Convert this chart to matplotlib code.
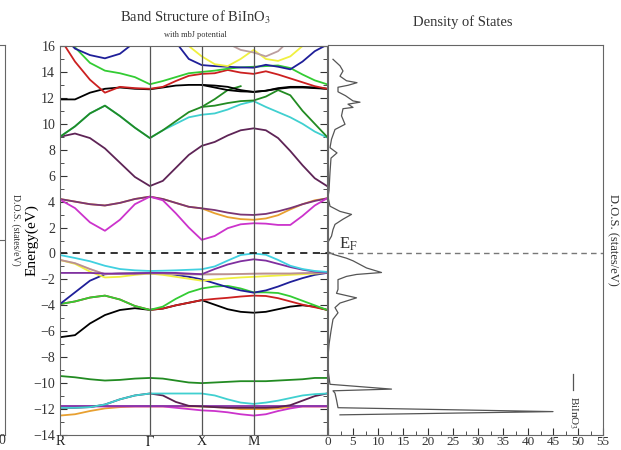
import numpy as np
import matplotlib
matplotlib.use("Agg")
import matplotlib.pyplot as plt
from matplotlib.ticker import MultipleLocator

plt.rcParams['font.family'] = ['Liberation Serif', 'DejaVu Serif']
plt.rcParams['mathtext.fontset'] = 'stix'

# k-path R - Gamma - X - M - Gamma (cubic, units of 2pi/a)
seg_len = [np.sqrt(3) / 2, 0.5, 0.5, np.sqrt(2) / 2]
seg_pts = [6, 4, 4, 6]
k_nodes = np.concatenate([[0], np.cumsum(seg_len)])
k = [0.0]
for i in range(4):
    k += list(np.linspace(k_nodes[i], k_nodes[i + 1], seg_pts[i] + 1)[1:])
k = np.array(k)
k_labels = ['R', r'$\Gamma$', 'X', 'M', '']

nan = np.nan
# band energies (eV) read at the 21 k points
bands = [
    # semicore ~ -12 eV
    ('#e8a030', [-12.5, -12.4, -12.15, -11.95, -11.85, -11.8, -11.8, -11.8, -11.8, -11.8, -11.8,
                 -11.85, -11.9, -12.0, -12.0, -12.0, -11.95, -11.85, -11.8, -11.8, -11.8]),
    ('#cc33cc', [-11.8, -11.8, -11.8, -11.8, -11.8, -11.8, -11.8, -11.8, -11.9, -12.0, -12.1,
                 -12.15, -12.25, -12.4, -12.5, -12.4, -12.15, -11.95, -11.8, -11.8, -11.8]),
    ('#8833aa', [-11.78] * 21),
    ('#5a2050', [-11.9, -11.9, -11.85, -11.65, -11.25, -10.95, -10.8, -10.95, -11.45, -11.75, -11.8,
                 -11.85, -11.9, -11.9, -11.9, -11.9, -11.85, -11.7, -11.35, -11.0, -10.8]),
    ('#40d0d0', [-11.9, -11.9, -11.85, -11.65, -11.25, -10.95, -10.8, -10.8, -10.8, -10.8, -10.8,
                 -10.95, -11.25, -11.5, -11.6, -11.5, -11.35, -11.15, -10.95, -10.85, -10.8]),
    ('#228b22', [-9.45, -9.55, -9.7, -9.8, -9.75, -9.65, -9.6, -9.65, -9.8, -9.95, -10.0,
                 -9.95, -9.9, -9.85, -9.85, -9.85, -9.8, -9.75, -9.7, -9.6, -9.6]),
    # valence
    ('#000000', [-6.46, -6.3, -5.4, -4.75, -4.36, -4.22, -4.35, -4.25, -4.0, -3.8, -3.6,
                 -3.95, -4.3, -4.5, -4.57, -4.5, -4.3, -4.1, -4.0, -4.1, -4.35]),
    ('#cc2020', [-3.9, -3.7, -3.4, -3.25, -3.55, -4.05, -4.35, -4.25, -4.0, -3.8, -3.6,
                 -3.5, -3.42, -3.32, -3.25, -3.28, -3.45, -3.7, -3.95, -4.15, -4.35]),
    ('#33cc33', [-3.9, -3.7, -3.4, -3.25, -3.55, -4.05, -4.35, -4.1, -3.5, -3.0, -2.7,
                 -2.55, -2.5, -2.7, -3.0, -3.0, -3.05, -3.3, -3.65, -4.0, -4.35]),
    ('#1f1f99', [-3.9, -3.0, -2.1, -1.6, -1.55, -1.5, -1.5, -1.55, -1.65, -1.8, -2.0,
                 -2.3, -2.6, -2.85, -3.02, -2.85, -2.55, -2.2, -1.9, -1.65, -1.5]),
    ('#d8d8d8', [-0.5, -0.75, -1.2, -1.6, -1.55, -1.55, -1.55, -1.55, -1.6, -1.62, -1.65,
                 -1.62, -1.6, -1.58, -1.56, -1.55, -1.55, -1.55, -1.52, -1.5, -1.5]),
    ('#f0f040', [-0.5, -0.8, -1.4, -1.85, -1.8, -1.65, -1.55, -1.65, -1.8, -1.95, -2.1,
                 -2.0, -1.92, -1.85, -1.8, -1.75, -1.7, -1.65, -1.6, -1.55, -1.5]),
    ('#bc9090', [-0.5, -0.75, -1.2, -1.6, -1.55, -1.55, -1.55, -1.55, -1.58, -1.6, -1.6,
                 -1.6, -1.6, -1.58, -1.56, -1.55, -1.55, -1.55, -1.52, -1.5, -1.5]),
    ('#7f2f9f', [-1.5, -1.5, -1.5, -1.55, -1.55, -1.55, -1.5, -1.5, -1.5, -1.55, -1.6,
                 -1.2, -0.85, -0.6, -0.45, -0.55, -0.8, -1.05, -1.25, -1.4, -1.5]),
    ('#40d0e0', [-0.12, -0.35, -0.6, -0.95, -1.2, -1.3, -1.35, -1.33, -1.3, -1.26, -1.22,
                 -1.0, -0.55, -0.12, 0.0, -0.1, -0.5, -0.95, -1.2, -1.35, -1.42]),
    # conduction
    ('#e8a030', [4.2, 4.0, 3.8, 3.7, 3.9, 4.2, 4.38, 4.2, 3.9, 3.6, 3.48,
                 3.1, 2.8, 2.65, 2.6, 2.7, 2.95, 3.4, 3.8, 4.1, 4.25]),
    ('#7a3575', [4.2, 4.0, 3.8, 3.7, 3.9, 4.2, 4.38, 4.2, 3.9, 3.6, 3.48,
                 3.35, 3.15, 3.0, 2.97, 3.05, 3.25, 3.5, 3.8, 4.05, 4.25]),
    ('#cc33cc', [4.15, 3.5, 2.4, 1.75, 2.6, 3.8, 4.38, 4.1, 3.1, 2.0, 1.05,
                 1.35, 1.95, 2.25, 2.33, 2.3, 2.2, 2.2, 2.9, 3.7, 4.25]),
    ('#5e2456', [9.0, 9.25, 8.9, 8.1, 7.0, 5.9, 5.2, 5.6, 6.6, 7.6, 8.3,
                 8.6, 9.1, 9.5, 9.65, 9.5, 8.9, 7.9, 6.8, 5.8, 5.2]),
    ('#40d0d0', [9.0, 9.8, 10.8, 11.4, 10.6, 9.7, 8.9, 9.5, 10.0, 10.5, 10.7,
                 10.8, 11.1, 11.5, 11.75, 11.3, 10.9, 10.5, 10.0, 9.4, 8.95]),
    ('#228b22', [9.0, 9.8, 10.8, 11.4, 10.6, 9.7, 8.9, 9.5, 10.2, 10.9, 11.3,
                 11.4, 11.6, 11.75, 11.8, 12.1, 12.6, 12.2, 11.0, 10.0, 9.0]),
    ('#228b22', [nan] * 10 + [11.3, 11.9, 12.6, 12.9, nan, nan, nan, nan, nan, nan, nan]),
    ('#000000', [11.88, 11.88, 12.4, 12.7, 12.8, 12.7, 12.66, 12.8, 12.95, 13.0, 13.0,
                 12.8, 12.6, 12.5, 12.47, 12.55, 12.7, 12.8, 12.8, 12.75, 12.7]),
    ('#000000', [nan] * 10 + [13.0, 12.95, 12.85, 12.6, 12.45, 12.55, 12.75, 12.85, 12.85, 12.8, 12.7]),
    ('#cc2020', [16.6, 14.8, 13.4, 12.4, 12.85, 12.75, 12.7, 12.85, 13.3, 13.7, 13.85,
                 13.9, 14.15, 13.95, 13.85, 14.05, 13.8, 13.5, 13.2, 12.9, 12.7]),
    ('#33cc33', [16.6, 15.9, 14.7, 14.1, 13.9, 13.6, 13.05, 13.3, 13.6, 13.9, 14.0,
                 14.1, 14.25, 14.35, 14.4, 14.45, 14.5, 14.3, 13.8, 13.35, 13.05]),
    ('#1f1f99', [17.0, 15.8, 15.3, 15.05, 15.4, 16.3, 17.0, 17.0, 16.3, 15.0, 14.53,
                 14.45, 14.4, 14.35, 14.33, 14.55, 14.4, 14.2, 14.8, 15.6, 16.1]),
    ('#f0f040', [17.0, 17.0, 17.0, 17.0, 16.4, 16.0, 16.5, 17.0, 16.8, 16.0, 15.2,
                 14.6, 14.45, 15.0, 15.7, 15.0, 14.85, 15.2, 16.0, 16.6, 17.0]),
    ('#bc9f9f', [nan] * 12 + [16.2, 15.7, 15.5, 15.2, 15.6, 16.5, nan, nan, nan]),
]

# total DOS of BiInO3 (energy eV, states/eV)
dos_E = [14.9, 14.4, 14.0, 13.6, 13.25, 13.1, 12.9, 12.75, 12.4, 12.1, 11.7, 11.6, 11.45, 11.2,
         11.1, 10.55, 9.9, 9.5, 8.75, 8.1, 7.7, 7.3, 6.2, 4.8, 4.3, 3.6, 3.2, 2.97, 2.6, 2.2,
         1.8, 1.3, 0.9, 0.5, 0.1, -0.1, -0.4, -0.6, -1.15, -1.5, -1.65, -1.8, -2.05, -2.8,
         -3.1, -3.45, -3.85, -4.2, -4.6, -5.1, -6.0, -7.05, -8.0, -9.0, -10.1, -10.47, -10.6,
         -10.78, -11.3, -11.9, -12.2, -12.45]
dos_V = [1.0, 2.4, 3.0, 2.4, 3.7, 5.8, 4.0, 2.0, 2.0, 3.5, 5.0, 6.4, 4.0, 5.0,
         3.0, 2.7, 3.4, 1.4, 0.7, 0.4, 1.8, 0.6, 0.4, 0.2, 0.0, 0.4, 2.4, 4.7, 3.0, 1.4,
         1.0, 0.7, 0.1, 0.0, 0.0, 1.0, 3.7, 5.0, 7.7, 10.7, 5.7, 3.7, 2.0, 2.0,
         1.7, 5.7, 2.4, 1.4, 2.0, 1.0, 0.6, 0.2, 0.0, 0.0, 0.4, 12.7, 1.0,
         1.4, 1.7, 2.0, 45.0, 2.4]

W, H = 621, 450
fig = plt.figure(figsize=(W / 100, H / 100), dpi=100)

def fr(x0, y0, x1, y1):
    return [x0 / W, 1 - y1 / H, (x1 - x0) / W, (y1 - y0) / H]

frame = '#666666'

# leftover panel on the far left
axl = fig.add_axes(fr(-60, 45, 5, 435))
axl.set_xlim(0, 1)
axl.set_ylim(0, 1)
axl.set_xticks([])
axl.set_yticks([0.5])
axl.set_yticklabels([])
axl.tick_params(axis='y', direction='in', length=4, color=frame, left=False, right=True)
for s in axl.spines.values():
    s.set_color(frame)

# band structure
ax = fig.add_axes(fr(60, 46, 327, 435))
for col, e in bands:
    ax.plot(k, e, color=col, lw=1.3)
for kn in k_nodes[1:-1]:
    ax.axvline(kn, color='#555555', lw=0.9)
ax.axhline(0, color='#222222', lw=1.3, ls=(0, (4, 3)))
ax.set_xlim(k_nodes[0], k_nodes[-1])
ax.set_ylim(-14, 16)
ax.set_xticks(k_nodes)
ax.set_xticklabels(k_labels)
ax.yaxis.set_major_locator(MultipleLocator(2))
ax.yaxis.set_minor_locator(MultipleLocator(1))
ax.tick_params(axis='y', which='both', direction='in', right=True, labelsize=10, colors='#333333')
ax.tick_params(axis='y', which='major', length=5)
ax.tick_params(axis='y', which='minor', length=3)
ax.tick_params(axis='x', length=0, labelsize=10, pad=0, colors='#222222')
for s in ax.spines.values():
    s.set_color(frame)
ax.set_ylabel('Energy(eV)', fontsize=11, labelpad=-4)

# density of states
axd = fig.add_axes(fr(328, 45, 603, 435))
axd.plot(dos_V, dos_E, color='#555555', lw=0.9)
axd.axhline(0, color='#777777', lw=1.0, ls=(0, (4, 3)))
axd.set_xlim(0, 55)
axd.set_ylim(-14, 16)
axd.xaxis.set_major_locator(MultipleLocator(5))
axd.xaxis.set_minor_locator(MultipleLocator(2.5))
axd.set_yticks([])
axd.tick_params(axis='x', which='both', direction='in', labelsize=9.5, colors='#333333', pad=0.5)
axd.tick_params(axis='x', which='major', length=5)
axd.tick_params(axis='x', which='minor', length=3)
for s in axd.spines.values():
    s.set_color(frame)
axd.text(2.2, 0.35, r'E$_\mathrm{F}$', fontsize=12, color='#333333')
axd.plot([49, 49], [-9.3, -10.5], color='#555555', lw=0.9)
axd.text(49, -11.0, r'BiInO$_3$', rotation=-90, fontsize=8, ha='center', va='top', color='#333333')

# titles and side labels
fig.text(195 / W, 1 - 17 / H, r'Band Structure of BiInO$_3$', fontsize=10.5, ha='center', va='center', color='#333333')
fig.text(195 / W, 1 - 35 / H, 'with mbJ potential', fontsize=6, ha='center', va='center', color='#333333')
fig.text(463 / W, 1 - 22 / H, 'Density of States', fontsize=10.5, ha='center', va='center', color='#333333')
fig.text(613 / W, 1 - 240 / H, 'D.O.S. (states/eV)', rotation=-90, fontsize=9, ha='center', va='center', color='#333333')
fig.text(16 / W, 1 - 230 / H, 'D.O.S. (states/eV)', rotation=-90, fontsize=7, ha='center', va='center', color='#333333')
fig.text(2 / W, 1 - 441 / H, '0', fontsize=10, ha='center', va='center', color='#333333')

fig.savefig('out.png', dpi=100)
